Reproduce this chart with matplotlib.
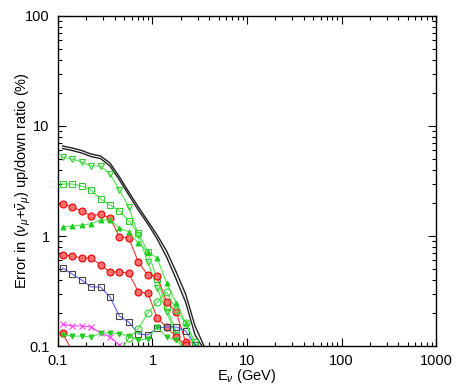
#!/usr/bin/env python3

import numpy as np
import matplotlib.pyplot as plt
from matplotlib.ticker import FixedLocator, FixedFormatter, LogLocator, NullFormatter

plt.rcParams['font.family'] = ['Liberation Sans', 'DejaVu Sans']
plt.rcParams['mathtext.fontset'] = 'custom'
plt.rcParams['mathtext.rm'] = 'Liberation Sans'
plt.rcParams['mathtext.it'] = 'Liberation Sans:italic'

# neutrino energy bins (GeV)
E = [0.112, 0.141, 0.178, 0.224, 0.282, 0.355, 0.447, 0.562, 0.708, 0.891,
     1.12, 1.41, 1.78, 2.24, 2.82, 3.55]

# errors (%) per bin
total_hi = [6.58, 6.31, 5.99, 5.56, 5.34, 4.61, 3.44, 2.51, 1.84, 1.37,
            1.02, 0.73, 0.471, 0.297, 0.152, 0.098]
total_lo = [6.24, 5.99, 5.68, 5.28, 5.06, 4.33, 3.23, 2.36, 1.72, 1.29,
            0.94, 0.644, 0.406, 0.251, 0.126, 0.092]
g_tridown = [5.23, 5.01, 4.71, 4.33, 4.33, 3.66, 2.62, 1.84, 1.02, 0.58,
             0.337, 0.204, 0.126, 0.092]
g_square = [2.97, 2.97, 2.85, 2.62, 2.17, 1.91, 1.69, 1.37, 1.06, 0.716,
            0.406, 0.226, 0.131, 0.088]
g_triup = [1.21, 1.23, 1.26, 1.29, 1.40, 1.40, 1.18, 1.09, 0.864, 0.716,
           0.631, 0.374, 0.246, 0.162, 0.1]
r_first = [1.95, 1.84, 1.69, 1.52, 1.58, 1.46, 0.98, 0.96, 0.58, 0.442,
           0.433, 0.251, 0.204, 0.109, 0.083]
r_second = [0.672, 0.658, 0.631, 0.631, 0.545, 0.471, 0.471, 0.461, 0.31,
            0.303, 0.18, 0.149, 0.121, 0.102, 0.083]
b_square = [0.512, 0.452, 0.398, 0.344, 0.344, 0.279, 0.187, 0.165, 0.129,
            0.126, 0.146, 0.149, 0.149, 0.137, 0.102, 0.078]
m_cross = [0.158, 0.152, 0.152, 0.149, 0.131, 0.121, 0.102, 0.078]
r_third = [0.131, 0.09, 0.077]
g_small = [0.126, 0.123, 0.123, 0.121, 0.131, 0.131, 0.129, 0.123, 0.113,
           0.116, 0.149, 0.121, 0.113, 0.092]
# open circles start at the 7th bin
g_circle = [0.088, 0.118, 0.143, 0.2, 0.251, 0.31, 0.212, 0.162, 0.109, 0.083]

GREEN = '#4ee84e'
RED = '#ff3030'

fig = plt.figure(figsize=(4.6, 3.86), dpi=100)
ax = fig.add_axes([0.126, 0.1036, 0.822, 0.855])

ax.plot(E, total_hi, color='#222222', lw=1.0)
ax.plot(E, total_lo, color='#222222', lw=1.0)


def series(y, color, marker, mfc, mec, ms, start=0):
    x = E[start:start + len(y)]
    ax.plot(x, y, color=color, lw=0.8, marker=marker, ms=ms,
            mfc=mfc, mec=mec, mew=0.8)


series(g_tridown, GREEN, 'v', 'none', '#33cc33', 5)
series(g_square, GREEN, 's', 'none', '#33cc33', 5)
series(r_first, RED, 'o', '#ff7070', '#ee0000', 5)
series(g_triup, GREEN, '^', '#22cc22', '#22cc22', 3.5)
series(r_second, RED, 'o', '#ff7070', '#ee0000', 5)
series(b_square, '#6060ff', 's', 'none', '#444444', 4.5)
series(m_cross, '#ff40ff', 'x', 'none', '#ff40ff', 4)
series(r_third, RED, 'o', '#ff7070', '#ee0000', 5)
series(g_small, GREEN, 'v', '#22cc22', '#22cc22', 3.5)
series(g_circle, GREEN, 'o', 'none', '#33cc33', 5, start=6)

ax.set_xscale('log')
ax.set_yscale('log')
ax.set_xlim(0.1, 1000)
ax.set_ylim(0.1, 100)

ax.xaxis.set_major_locator(FixedLocator([0.1, 1, 10, 100, 1000]))
ax.xaxis.set_major_formatter(FixedFormatter(['0.1', '1', '10', '100', '1000']))
ax.yaxis.set_major_locator(FixedLocator([0.1, 1, 10, 100]))
ax.yaxis.set_major_formatter(FixedFormatter(['0.1', '1', '10', '100']))
ax.xaxis.set_minor_locator(LogLocator(subs=np.arange(2, 10)))
ax.yaxis.set_minor_locator(LogLocator(subs=np.arange(2, 10)))
ax.xaxis.set_minor_formatter(NullFormatter())
ax.yaxis.set_minor_formatter(NullFormatter())

ax.tick_params(which='both', direction='in', top=True, right=True,
               labelsize=10.5, width=0.8)
ax.tick_params(which='major', length=6, pad=6)
ax.tick_params(which='minor', length=3)
for s in ax.spines.values():
    s.set_linewidth(1.0)

ax.set_xlabel(r'E$_\nu$ (GeV)', fontsize=10.5, labelpad=-1)
ax.set_ylabel(r'Error in ($\nu_\mu$+$\bar{\nu}_\mu$) up/down ratio (%)',
              fontsize=10.5, labelpad=-6)

plt.savefig('out.png', dpi=100)
